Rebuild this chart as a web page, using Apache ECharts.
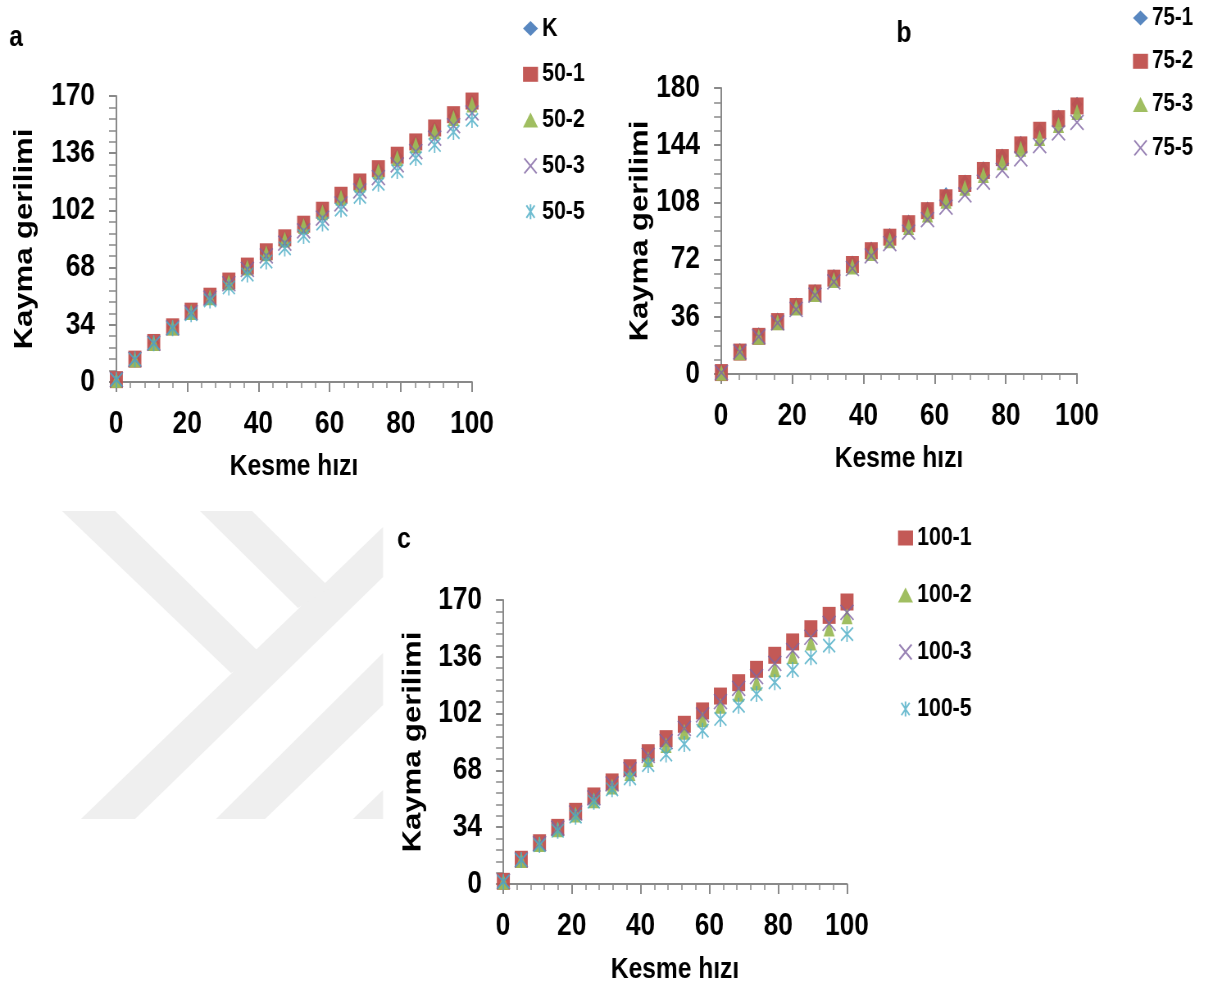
<!DOCTYPE html>
<html><head><meta charset="utf-8">
<script src="https://cdn.jsdelivr.net/npm/echarts@6/dist/echarts.min.js"></script>
<style>
html,body{margin:0;padding:0;background:#fff;overflow:hidden}
#wrap{width:1213px;height:990px;overflow:hidden;position:relative}
#c{width:1480px;height:990px;transform-origin:0 0;position:absolute;left:0;top:0}
</style>
</head><body><div id="wrap"><div id="c"></div></div>
<script>
// ---- data ----
const shearRate = [0.1, 5.3, 10.6, 15.9, 21.1, 26.4, 31.7, 36.9, 42.2, 47.4, 52.7, 58.0, 63.2, 68.5, 73.7, 79.0, 84.2, 89.5, 94.8, 100];

const xTicks = [0, 20, 40, 60, 80, 100];
const yTicksA = [0, 34, 68, 102, 136, 170];
const yTicksB = [0, 36, 72, 108, 144, 180];
const yTicksC = [0, 34, 68, 102, 136, 170];

const namesA = ['K', '50-1', '50-2', '50-3', '50-5'];
const a_K   = [1.2, 13.3, 23.2, 32.5, 41.8, 50.7, 59.6, 68.4, 76.9, 85.2, 93.3, 101.5, 110.3, 118.3, 126.2, 134.2, 142.0, 150.3, 158.2, 166.3];
const a_501 = [1.4, 13.6, 23.5, 32.8, 42.1, 51.0, 60.0, 68.9, 77.4, 85.7, 93.8, 102.1, 111.0, 118.9, 126.8, 134.8, 142.7, 151.0, 158.9, 167.0];
const a_502 = [1.2, 13.4, 23.2, 32.4, 41.6, 50.4, 59.3, 68.1, 76.5, 84.7, 92.7, 100.9, 109.6, 117.4, 125.2, 133.1, 140.9, 149.1, 156.9, 164.9];
const a_503 = [1.4, 13.4, 23.1, 32.2, 41.2, 49.8, 58.4, 66.9, 74.9, 82.6, 89.8, 97.4, 105.9, 113.6, 121.5, 129.0, 137.0, 145.0, 152.4, 160.0];
const a_505 = [1.4, 13.5, 23.0, 31.9, 40.3, 48.5, 56.2, 63.9, 71.6, 79.4, 86.8, 94.2, 102.5, 110.1, 117.8, 125.4, 133.1, 140.9, 148.6, 155.8];

const namesB = ['75-1', '75-2', '75-3', '75-5'];
const b_751 = [1.9, 14.8, 24.7, 34.0, 43.5, 52.0, 61.3, 69.9, 78.6, 87.1, 95.6, 103.8, 112.9, 120.9, 129.1, 137.2, 145.2, 153.4, 161.7, 169.7];
const b_752 = [0.9, 13.8, 23.7, 33.0, 42.5, 51.0, 60.3, 68.9, 77.6, 86.1, 94.6, 102.8, 110.9, 119.9, 128.1, 136.2, 144.2, 153.4, 160.7, 168.7];
const b_753 = [0.8, 13.7, 23.4, 32.6, 41.8, 50.3, 59.2, 67.6, 76.2, 84.1, 92.5, 100.4, 109.0, 117.2, 125.3, 133.3, 141.7, 148.6, 156.7, 164.9];
const b_755 = [0.8, 13.9, 23.5, 32.2, 40.6, 49.6, 58.0, 66.4, 74.3, 82.0, 89.3, 97.1, 105.0, 112.8, 120.7, 128.1, 135.4, 143.7, 151.7, 158.4];

const namesC = ['100-1', '100-2', '100-3', '100-5'];
const c_1001 = [1.6, 14.8, 24.7, 33.9, 43.5, 52.7, 61.1, 69.6, 78.6, 87.0, 95.6, 103.6, 112.5, 120.5, 128.5, 136.9, 144.9, 152.8, 160.8, 168.8];
const c_1002 = [1.4, 14.3, 23.9, 32.8, 41.6, 50.2, 58.3, 66.4, 74.8, 83.2, 91.2, 98.6, 106.7, 113.9, 120.6, 128.5, 136.5, 144.5, 153.0, 160.2];
const c_1003 = [1.6, 14.5, 24.2, 33.5, 42.5, 51.5, 60.0, 68.5, 77.0, 85.2, 93.2, 101.2, 109.1, 117.1, 124.1, 132.1, 139.7, 147.7, 156.0, 162.6];
const c_1005 = [1.4, 14.4, 23.3, 31.9, 40.3, 49.3, 56.7, 63.3, 71.2, 77.5, 83.8, 91.8, 98.8, 106.7, 113.7, 120.7, 128.1, 135.7, 142.7, 149.6];

// ---- layout: the figure is horizontally compressed; draw wide, squeeze with CSS ----
const S = 1213 / 1480;
document.getElementById('c').style.transform = 'scaleX(' + S + ')';
const R = x => x / S;   // page x -> chart x

const FONT = '"Liberation Sans", Arial, sans-serif';
const AX = '#898989';
const BLUE = '#4F81BD', RED = '#C0504D', GREEN = '#9BBB59', PURPLE = '#8064A2', CYAN = '#4BACC6';
const X_PATH = 'path://M0,0L10,10M10,0L0,10';
const STAR_PATH = 'path://M1,1L9,11M9,1L1,11M5,0L5,12';

const MK = {
  diamond: {symbol: 'diamond', size: [R(11), 15]},
  square:  {symbol: 'rect', size: [R(13), 17]},
  triangle:{symbol: 'triangle', size: [R(11), 16]},
  cross:   {symbol: X_PATH, size: [R(13), 15]},
  star:    {symbol: STAR_PATH, size: [R(12), 16]}
};

function pairs(ys) { return ys.map((v, i) => [shearRate[i], v]); }

function ser(name, ys, mk, color, gi) {
  const stroke = (mk === 'cross' || mk === 'star');
  return {
    type: 'scatter', name, xAxisIndex: gi, yAxisIndex: gi,
    data: pairs(ys), symbol: MK[mk].symbol, symbolSize: MK[mk].size,
    itemStyle: stroke ? {color: 'rgba(0,0,0,0)', borderColor: color, borderWidth: 1.8}
                      : {color: color, opacity: 0.95},
    emphasis: {disabled: true}, clip: false
  };
}

function xAxisCfg(gi, minor, gap) {
  return {
    type: 'value', gridIndex: gi, min: xTicks[0], max: xTicks[xTicks.length - 1], interval: xTicks[1] - xTicks[0],
    axisLine: {show: true, onZero: false, lineStyle: {color: AX, width: 2}},
    axisTick: {show: true, length: 10, lineStyle: {color: AX, width: 2}},
    minorTick: {show: true, splitNumber: minor, length: 6, lineStyle: {color: AX, width: 1.5}},
    splitLine: {show: false}, minorSplitLine: {show: false},
    axisLabel: {margin: 26, color: '#000', fontFamily: FONT, fontWeight: 'bold', fontSize: 32},
    name: 'Kesme hızı', nameLocation: 'middle', nameGap: gap, nameMoveOverlap: false,
    nameTextStyle: {color: '#000', fontFamily: FONT, fontWeight: 'bold', fontSize: 30}
  };
}
function yAxisCfg(gi, ticks, minor, gap) {
  return {
    type: 'value', gridIndex: gi, min: ticks[0], max: ticks[ticks.length - 1], interval: ticks[1] - ticks[0],
    axisLine: {show: true, onZero: false, lineStyle: {color: AX, width: 2}},
    axisTick: {show: true, length: R(7), lineStyle: {color: AX, width: 2}},
    minorTick: {show: true, splitNumber: minor, length: R(7), lineStyle: {color: AX, width: 1.5}},
    splitLine: {show: false}, minorSplitLine: {show: false},
    axisLabel: {margin: R(21), color: '#000', fontFamily: FONT, fontWeight: 'bold', fontSize: 32},
    name: 'Kayma gerilimi', nameLocation: 'middle', nameGap: gap, nameMoveOverlap: false,
    nameTextStyle: {color: '#000', fontFamily: FONT, fontWeight: 'bold', fontSize: 31}
  };
}
function legendCfg(names, left, top, gap, fs) {
  return {
    data: names, orient: 'vertical', left: R(left), top, itemWidth: R(15), itemHeight: 15, itemGap: gap,
    selectedMode: false, padding: 0,
    textStyle: {color: '#000', fontFamily: FONT, fontWeight: 'bold', fontSize: fs, lineHeight: fs}
  };
}

const wm = '#efefef';
const watermark = [
  [[62,511],[115,511],[262,655],[231,673]],
  [[81,819],[135,819],[383,577],[383,527]],
  [[200,511],[252,511],[330,588],[298,608]],
  [[216,819],[265,819],[383,705],[383,653]],
  [[353,819],[383,819],[383,790]]
].map(p => ({type: 'polygon', z: -10, silent: true,
  shape: {points: p.map(q => [R(q[0]), q[1]])}, style: {fill: wm}}));

const panelLabel = (t, x, y) => ({type: 'text', x: R(x), y, silent: true,
  style: {text: t, fill: '#000', font: 'bold 30px ' + FONT, textAlign: 'center', textVerticalAlign: 'middle'}});

const chart = echarts.init(document.getElementById('c'), null, {renderer: 'canvas', width: 1480, height: 990});
chart.setOption({
  backgroundColor: '#fff',
  animation: false,
  graphic: watermark.concat([panelLabel('a', 16, 38), panelLabel('b', 904, 34), panelLabel('c', 404, 540)]),
  grid: [
    {left: R(116), top: 96, width: R(356), height: 286, outerBoundsMode: 'none'},
    {left: R(721), top: 88, width: R(356), height: 286, outerBoundsMode: 'none'},
    {left: R(503), top: 600, width: R(344), height: 284, outerBoundsMode: 'none'}
  ],
  xAxis: [xAxisCfg(0, 5, 70), xAxisCfg(1, 4, 70), xAxisCfg(2, 5, 71)],
  yAxis: [yAxisCfg(0, yTicksA, 5, R(78)), yAxisCfg(1, yTicksB, 4, R(68)), yAxisCfg(2, yTicksC, 5, R(77))],
  legend: [legendCfg(namesA, 523, 15.5, 19.8, 26), legendCfg(namesB, 1133, 5.5, 18.3, 25), legendCfg(namesC, 898, 525, 31, 26)],
  series: [
    ser(namesA[0], a_K, 'diamond', BLUE, 0),
    ser(namesA[1], a_501, 'square', RED, 0),
    ser(namesA[2], a_502, 'triangle', GREEN, 0),
    ser(namesA[3], a_503, 'cross', PURPLE, 0),
    ser(namesA[4], a_505, 'star', CYAN, 0),
    ser(namesB[0], b_751, 'diamond', BLUE, 1),
    ser(namesB[1], b_752, 'square', RED, 1),
    ser(namesB[2], b_753, 'triangle', GREEN, 1),
    ser(namesB[3], b_755, 'cross', PURPLE, 1),
    ser(namesC[0], c_1001, 'square', RED, 2),
    ser(namesC[1], c_1002, 'triangle', GREEN, 2),
    ser(namesC[2], c_1003, 'cross', PURPLE, 2),
    ser(namesC[3], c_1005, 'star', CYAN, 2)
  ]
});
</script></body></html>
